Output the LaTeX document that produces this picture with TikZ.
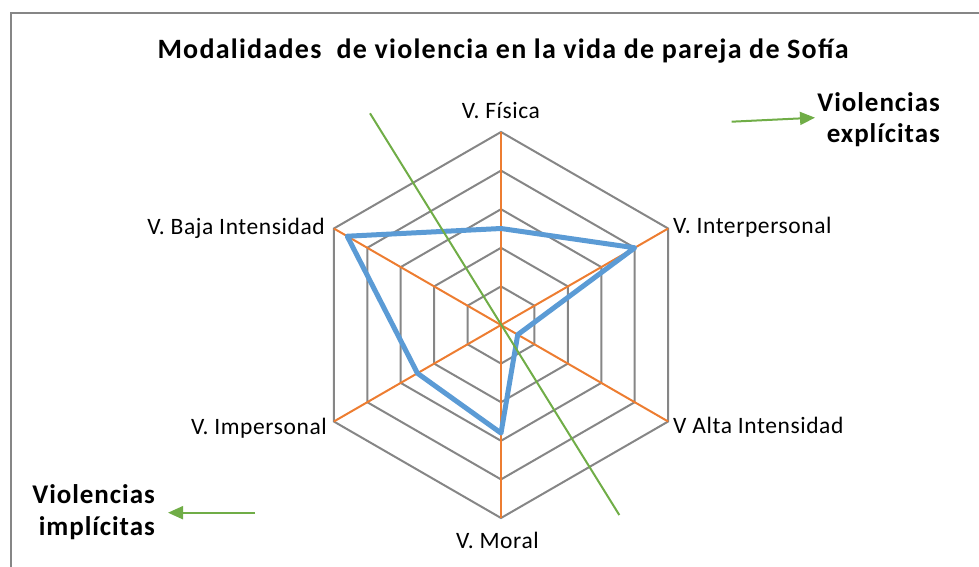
\documentclass[tikz,border=0pt]{standalone}
\usepackage{fontspec}
\setmainfont{Carlito}
\newfontfamily\lblfont{Carlito}[LetterSpace=2.5]
\newfontfamily\sidefont{Carlito}[LetterSpace=3.5]
\newfontfamily\titlefont{Carlito}[LetterSpace=4.5]
\usetikzlibrary{arrows.meta}
\definecolor{ringgray}{RGB}{134,134,134}
\definecolor{axisorange}{RGB}{237,125,49}
\definecolor{seriesblue}{RGB}{91,155,213}
\definecolor{arrowgreen}{RGB}{112,173,71}
\begin{document}
\begin{tikzpicture}[x=1pt,y=1pt]
	\tikzstyle{ring}=[draw=ringgray,line width=2pt];
	\tikzstyle{axis}=[draw=axisorange,line width=2pt];
	\tikzstyle{series}=[draw=seriesblue,line width=5pt,line join=round];
	\tikzstyle{garrow}=[draw=arrowgreen,line width=2pt,-{Triangle[length=15pt,width=13pt]}];
	\tikzstyle{lbl}=[font=\lblfont\fontsize{23.5}{28}\selectfont,inner sep=0pt];
	\tikzstyle{side}=[font=\sidefont\bfseries\fontsize{27}{31.7}\selectfont,align=right,inner sep=0pt];
	\useasboundingbox (0,0) rectangle (979,566);
	\draw[ringgray,line width=2pt] (11,-5) |- (990,553);
	\node[font=\titlefont\bfseries\fontsize{28}{32}\selectfont,inner sep=0pt,anchor=base] (title) at (503,507) {Modalidades\ \ de violencia en la vida de pareja de Sofía};
	\begin{scope}[shift={(501,241)}]
		\foreach \i [evaluate=\i as \r using \i*38.6] in {1,...,5}
			\draw[ring] (90:\r) -- (30:\r) -- (-30:\r) -- (-90:\r) -- (-150:\r) -- (-210:\r) -- cycle;
		\foreach \a in {90,30,-30,-90,-150,-210}
			\draw[axis] (0,0) -- (\a:193);
		\draw[series] (90:2.5*38.6) -- (30:4*38.6) -- (-30:0.5*38.6) -- (-90:2.8*38.6) -- (-150:2.5*38.6) -- (-210:4.6*38.6) -- cycle;
	\end{scope}
	\node[lbl,anchor=base] (fisica) at (501,447) {V. Física};
	\node[lbl,anchor=base west] (interp) at (673,333) {V. Interpersonal};
	\node[lbl,anchor=base west] (alta) at (673,133) {V Alta Intensidad};
	\node[lbl,anchor=base] (moral) at (497.5,18) {V. Moral};
	\node[lbl,anchor=base east] (imper) at (327,132) {V. Impersonal};
	\node[lbl,anchor=base east] (baja) at (325,332) {V. Baja Intensidad};
	\node[side,anchor=base east] (expl) at (940,423) {Violencias\\explícitas};
	\node[side,anchor=base east] (impl) at (155,31) {Violencias\\implícitas};
	\coordinate (gtop) at (370,452.7);
	\coordinate (gbot) at (619.3,51);
	\draw[draw=arrowgreen,line width=2pt] (gtop) -- (gbot);
	\coordinate (ea) at (731.7,444.3);
	\coordinate (eb) at (815,448.3);
	\draw[garrow] (ea) -- (eb);
	\coordinate (ia) at (255,53.3);
	\coordinate (ib) at (168,53.3);
	\draw[garrow] (ia) -- (ib);
\end{tikzpicture}
\end{document}
